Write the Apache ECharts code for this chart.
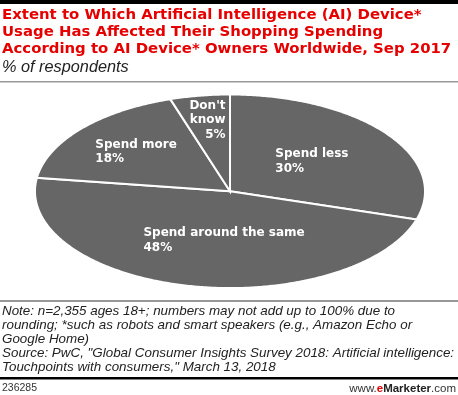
<!DOCTYPE html>
<html><head><meta charset="utf-8">
<script src="https://cdn.jsdelivr.net/npm/echarts@6/dist/echarts.min.js"></script>
<style>html,body{margin:0;padding:0;background:#fff}#c{width:458px;height:395px}</style>
</head><body><div id="c"></div>
<script>
const categories = ["Spend less", "Spend around the same", "Spend more", "Don't know"];
const values = [30, 48, 18, 5];
const valueLabels = ["30%", "48%", "18%", "5%"];

const titleText = "Extent to Which Artificial Intelligence (AI) Device*\nUsage Has Affected Their Shopping Spending\nAccording to AI Device* Owners Worldwide, Sep 2017";
const subtitleText = "% of respondents";
const noteText = "Note: n=2,355 ages 18+; numbers may not add up to 100% due to\nrounding; *such as robots and smart speakers (e.g., Amazon Echo or\nGoogle Home)\nSource: PwC, \"Global Consumer Insights Survey 2018: Artificial intelligence:\nTouchpoints with consumers,\" March 13, 2018";

const CX = 230, CY = 191.3, RX = 195, RY = 96.8;
const LABEL_FONT = 'bold 12px "DejaVu Sans"';
const labelNudge = {"Spend around the same": [16, 0]};
const rightAligned = {"Don't know": true};

const total = values.reduce((a, b) => a + b, 0);
const starts = [];
{ let s = 0; values.forEach(v => { starts.push(s); s += v; }); }

const mctx = document.createElement('canvas').getContext('2d');
mctx.font = LABEL_FONT;
function textWidth(lines) { return Math.max(...lines.map(l => mctx.measureText(l).width)); }

function pt(t, f) { return [CX + f * RX * Math.sin(t), CY - f * RY * Math.cos(t)]; }

function renderItem(params, api) {
  const i = params.dataIndex;
  const v = api.value(0);
  const a0 = starts[i] / total * Math.PI * 2;
  const a1 = (starts[i] + v) / total * Math.PI * 2;
  const pts = [[CX, CY]];
  const n = Math.max(8, Math.ceil((a1 - a0) / 0.01));
  for (let k = 0; k <= n; k++) pts.push(pt(a0 + (a1 - a0) * k / n, 1));
  const share = v / total;
  const f = 0.52 + 0.9 * Math.max(0, 0.3 - share);
  const mid = (a0 + a1) / 2;
  const anchor = pt(mid, f);
  const name = categories[i];
  const nudge = labelNudge[name] || [0, 0];
  const lines = [name === "Don't know" ? "Don't\nknow" : name, valueLabels[i]].join('\n').split('\n');
  const w = textWidth(lines);
  const right = !!rightAligned[name];
  const tx = right ? anchor[0] + w / 2 + nudge[0] : anchor[0] - w / 2 + nudge[0];
  return {
    type: 'group',
    children: [
      { type: 'polygon', shape: { points: pts },
        style: { fill: '#666666', stroke: '#ffffff', lineWidth: 2, lineJoin: 'miter' } },
      { type: 'text', z2: 10,
        style: { text: lines.join('\n'), x: tx, y: anchor[1] + nudge[1], fill: '#ffffff',
          font: LABEL_FONT, align: right ? 'right' : 'left', verticalAlign: 'middle', lineHeight: 14.5 } }
    ]
  };
}

const chart = echarts.init(document.getElementById('c'), null, { renderer: 'canvas' });
chart.setOption({
  animation: false,
  backgroundColor: '#ffffff',
  series: [{
    type: 'custom',
    coordinateSystem: 'none',
    renderItem: renderItem,
    data: values.map(v => [v])
  }],
  graphic: [
    { type: 'rect', shape: { x: 0, y: 0, width: 458, height: 4 }, style: { fill: '#000' } },
    { type: 'text', style: { text: titleText, x: 2, y: 6, fill: '#e60000', font: 'bold 14.9px "DejaVu Sans"', lineHeight: 17.3, verticalAlign: 'top' } },
    { type: 'text', style: { text: subtitleText, x: 2, y: 59, fill: '#222', font: 'italic 16.3px "Liberation Sans"', verticalAlign: 'top' } },
    { type: 'rect', shape: { x: 0, y: 81, width: 458, height: 1.5 }, style: { fill: '#999' } },
    { type: 'rect', shape: { x: 0, y: 300.5, width: 458, height: 1 }, style: { fill: '#333' } },
    { type: 'text', style: { text: noteText, x: 2, y: 304, fill: '#222', font: 'italic 13.4px "Liberation Sans"', lineHeight: 14, verticalAlign: 'top' } },
    { type: 'rect', shape: { x: 0, y: 377, width: 458, height: 2.5 }, style: { fill: '#000' } },
    { type: 'text', style: { text: '236285', x: 2, y: 383, fill: '#333', font: '10.5px "Liberation Sans"', verticalAlign: 'top' } },
    { type: 'text', style: { text: '{a|www.}{b|e}{c|Marketer}{a|.com}', x: 456, y: 382.5, align: 'right', verticalAlign: 'top',
        rich: { a: { fill: '#333', font: '11.5px "Liberation Sans"' }, b: { fill: '#e60000', font: 'bold 11.5px "Liberation Sans"' }, c: { fill: '#222', font: 'bold 11.5px "Liberation Sans"' } } } }
  ]
});
</script></body></html>
